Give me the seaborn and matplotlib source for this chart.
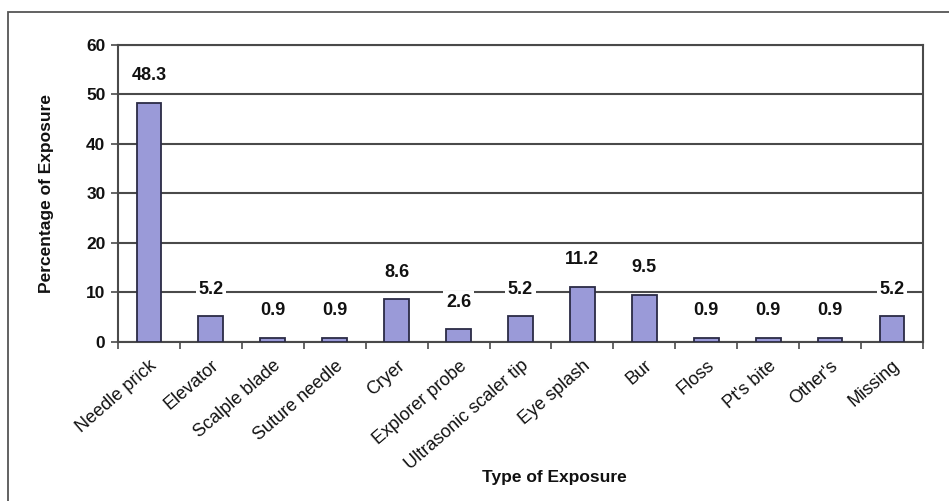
import matplotlib
matplotlib.use("Agg")
import matplotlib.pyplot as plt
import seaborn as sns
from matplotlib.patches import Rectangle

# Exposure categories and their share of all reported exposures (%)
categories = ["Needle prick", "Elevator", "Scalple blade", "Suture needle", "Cryer",
              "Explorer probe", "Ultrasonic scaler tip", "Eye splash", "Bur", "Floss",
              "Pt's bite", "Other's", "Missing"]
percentages = [48.3, 5.2, 0.9, 0.9, 8.6, 2.6, 5.2, 11.2, 9.5, 0.9, 0.9, 0.9, 5.2]
y_ticks = [0, 10, 20, 30, 40, 50, 60]

sns.set_style("white")
plt.rcParams["font.family"] = ["Liberation Sans", "DejaVu Sans"]

fig = plt.figure(figsize=(9.49, 5.01), dpi=100)
ax = fig.add_axes([0.1243, 0.3174, 0.8483, 0.5928])

bar_color = "#9a9ad8"
edge_color = "#2b2b45"
grid_color = "#4a4a4a"

sns.barplot(x=categories, y=percentages, width=0.4, color=bar_color, saturation=1,
            edgecolor=edge_color, linewidth=1.3, ax=ax, zorder=3)

ax.set_ylim(0, 60)
ax.set_xlim(-0.5, len(categories) - 0.5)
ax.set_yticks(y_ticks)
ax.set_yticklabels([str(t) for t in y_ticks], fontsize=12.5, fontweight="bold",
                   color="#111111")
ax.yaxis.grid(True, color=grid_color, linewidth=1.5, zorder=0)
ax.set_axisbelow(True)

# Category labels, slanted, with tick marks drawn between categories
ax.set_xticks(range(len(categories)))
ax.set_xticklabels(categories, rotation=41, ha="right", va="top",
                   rotation_mode="anchor", fontsize=13, color="#111111")
ax.tick_params(axis="x", which="major", length=0, pad=11)
ax.set_xticks([i - 0.5 for i in range(len(categories) + 1)], minor=True)
ax.tick_params(axis="x", which="minor", length=5, width=1.2, color=grid_color,
               direction="out", bottom=True)
ax.tick_params(axis="y", length=5, width=1.2, color=grid_color, direction="out",
               left=True, pad=4)

for side in ["left", "right", "top", "bottom"]:
    ax.spines[side].set_visible(True)
    ax.spines[side].set_color(grid_color)
    ax.spines[side].set_linewidth(1.5)

# Value labels above each bar on a white box
for i, v in enumerate(percentages):
    ax.annotate(f"{v}", xy=(i, v), xytext=(0, 27), textcoords="offset pixels",
                ha="center", va="center", fontsize=13, fontweight="bold",
                color="#111111", zorder=5,
                bbox=dict(boxstyle="square,pad=0.15", facecolor="white", edgecolor="none"))

ax.set_xlabel("Type of Exposure", fontsize=12.5, fontweight="bold", color="#111111")
ax.xaxis.set_label_coords(0.542, -0.43)
ax.set_ylabel("Percentage of Exposure", fontsize=12.5, fontweight="bold", color="#111111")
ax.yaxis.set_label_coords(-0.08, 0.5)

# Outer frame of the figure panel
fig.patches.append(Rectangle((8 / 949, -0.1), 1.2, 1.1 - 12 / 501,
                             transform=fig.transFigure, fill=False,
                             edgecolor="#555555", linewidth=1.3))

fig.savefig("out.png", dpi=100, facecolor="white")
